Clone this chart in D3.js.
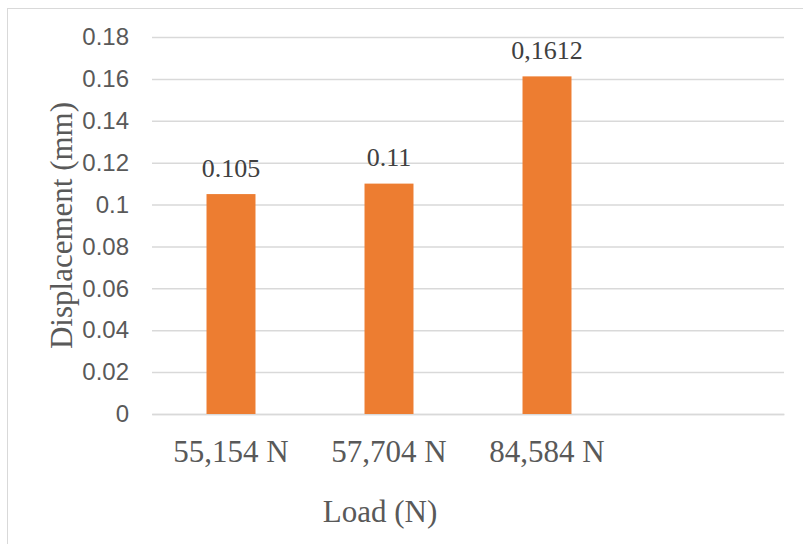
<!DOCTYPE html>
<html>
<head>
<meta charset="utf-8">
<script src="https://cdn.jsdelivr.net/npm/d3@7"></script>
<style>
  html, body { margin: 0; padding: 0; background: #fff; }
  svg { display: block; }
</style>
</head>
<body>
<svg id="chart" width="803" height="544"></svg>
<script>
// Displacement under load
const categories = ["55,154 N", "57,704 N", "84,584 N", ""];
const displacement = [0.105, 0.11, 0.1612, null];
const valueLabels = ["0.105", "0.11", "0,1612", ""];
const yTicks = [0, 0.02, 0.04, 0.06, 0.08, 0.1, 0.12, 0.14, 0.16, 0.18];
const yTickLabels = ["0", "0.02", "0.04", "0.06", "0.08", "0.1", "0.12", "0.14", "0.16", "0.18"];

const svg = d3.select("#chart");
const W = 803, H = 544;
const plot = { left: 152, right: 784, top: 37, bottom: 414 };

const serif = "'Liberation Serif', 'Times New Roman', serif";
const narrow = "'Liberation Sans Narrow', 'Arial Narrow', 'Liberation Sans', sans-serif";

// chart area border
svg.append("rect")
  .attr("x", 7.5).attr("y", 8.5)
  .attr("width", W + 10).attr("height", H + 10)
  .attr("fill", "#fff").attr("stroke", "#d9d9d9").attr("stroke-width", 1);

const x = d3.scaleBand()
  .domain(d3.range(categories.length))
  .range([plot.left, plot.right])
  .paddingInner(0.69)
  .paddingOuter(0.345);

const y = d3.scaleLinear().domain([0, 0.18]).range([plot.bottom, plot.top]);

// gridlines + tick labels
const yAxis = d3.axisLeft(y)
  .tickValues(yTicks)
  .tickSize(-(plot.right - plot.left))
  .tickPadding(23)
  .tickFormat((d, i) => yTickLabels[i]);

const gy = svg.append("g")
  .attr("transform", `translate(${plot.left},0)`)
  .call(yAxis);
gy.select(".domain").remove();
gy.selectAll(".tick line").attr("stroke", "#d9d9d9").attr("stroke-width", 1.5);
gy.selectAll(".tick text")
  .attr("fill", "#595959")
  .style("font-family", narrow)
  .style("font-size", "24px");

// category axis
const xAxis = d3.axisBottom(x)
  .tickSize(0)
  .tickPadding(0)
  .tickFormat(i => categories[i]);
const gx = svg.append("g")
  .attr("transform", `translate(0,${plot.bottom})`)
  .call(xAxis);
gx.select(".domain").attr("stroke", "#d9d9d9").attr("stroke-width", 1.5);
gx.selectAll(".tick text")
  .attr("y", 48)
  .attr("dy", null)
  .attr("fill", "#595959")
  .style("font-family", serif)
  .style("font-size", "31px");

// bars
const rows = categories.map((c, i) => ({ i, v: displacement[i], label: valueLabels[i] }))
  .filter(d => d.v != null);

svg.append("g").selectAll("rect")
  .data(rows)
  .join("rect")
  .attr("x", d => x(d.i))
  .attr("width", x.bandwidth())
  .attr("y", d => y(d.v))
  .attr("height", d => y(0) - y(d.v))
  .attr("fill", "#ed7d31");

// value labels
svg.append("g").selectAll("text")
  .data(rows)
  .join("text")
  .attr("x", d => x(d.i) + x.bandwidth() / 2)
  .attr("y", d => y(d.v) - 17.5)
  .attr("text-anchor", "middle")
  .attr("fill", "#404040")
  .style("font-family", serif)
  .style("font-size", "26px")
  .text(d => d.label);

// axis titles
svg.append("text")
  .attr("x", 380).attr("y", 522)
  .attr("text-anchor", "middle")
  .attr("fill", "#595959")
  .style("font-family", serif)
  .style("font-size", "31px")
  .text("Load (N)");

svg.append("text")
  .attr("transform", `translate(72,${(plot.top + plot.bottom) / 2}) rotate(-90)`)
  .attr("text-anchor", "middle")
  .attr("fill", "#595959")
  .style("font-family", serif)
  .style("font-size", "31px")
  .text("Displacement (mm)");
</script>
</body>
</html>
